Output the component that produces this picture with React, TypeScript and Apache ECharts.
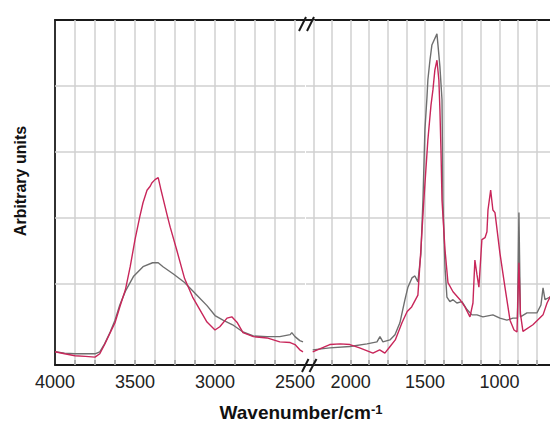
import React, { useEffect, useRef } from "react";
import * as echarts from "echarts";

// ---- data (wavenumber in cm-1, absorbance in arbitrary units) ----
const leftRedWn = [4000, 3940, 3875, 3810, 3750, 3720, 3690, 3655, 3625, 3595, 3560, 3530, 3500, 3470, 3450, 3425, 3405, 3395, 3375, 3355, 3340, 3325, 3300, 3280, 3240, 3190, 3140, 3095, 3050, 3000, 2970, 2925, 2895, 2860, 2825, 2760, 2675, 2595, 2530, 2500, 2470, 2450];
const leftRedVal = [-0.03, -0.06, -0.09, -0.10, -0.11, -0.06, 0.08, 0.26, 0.41, 0.65, 0.91, 1.26, 1.67, 2.02, 2.23, 2.42, 2.48, 2.53, 2.58, 2.61, 2.45, 2.30, 2.05, 1.86, 1.52, 1.08, 0.80, 0.61, 0.42, 0.30, 0.35, 0.48, 0.50, 0.41, 0.26, 0.20, 0.18, 0.12, 0.11, 0.08, 0.00, -0.03];

const leftGrayWn = [4000, 3940, 3875, 3810, 3750, 3720, 3690, 3655, 3625, 3595, 3560, 3510, 3450, 3390, 3355, 3325, 3260, 3190, 3110, 3050, 3000, 2950, 2890, 2825, 2760, 2675, 2595, 2530, 2520, 2500, 2470, 2450];
const leftGrayVal = [-0.03, -0.05, -0.06, -0.06, -0.06, -0.03, 0.09, 0.27, 0.45, 0.68, 0.89, 1.11, 1.26, 1.32, 1.32, 1.26, 1.15, 1.02, 0.82, 0.67, 0.52, 0.45, 0.38, 0.27, 0.21, 0.20, 0.20, 0.23, 0.26, 0.20, 0.14, 0.12];

const rightRedWn = [2255, 2140, 2070, 2005, 1940, 1850, 1805, 1770, 1735, 1700, 1655, 1620, 1590, 1548, 1528, 1508, 1481, 1460, 1447, 1434, 1420, 1407, 1400, 1393, 1386, 1366, 1346, 1312, 1265, 1232, 1198, 1178, 1165, 1151, 1138, 1118, 1097, 1084, 1077, 1059, 1044, 1030, 997, 963, 929, 902, 882, 869, 859, 842, 775, 707, 680, 660, 640];
const rightRedVal = [-0.03, 0.08, 0.09, 0.08, 0.03, -0.05, 0.00, -0.05, 0.05, 0.15, 0.41, 0.58, 0.65, 0.83, 1.52, 2.27, 3.18, 3.71, 3.94, 4.24, 4.39, 4.09, 3.64, 3.03, 2.27, 1.52, 1.02, 0.88, 0.76, 0.65, 0.50, 0.71, 1.36, 1.14, 0.95, 1.67, 1.70, 1.79, 2.12, 2.42, 2.12, 2.08, 1.47, 0.95, 0.45, 0.30, 0.27, 1.32, 0.55, 0.28, 0.38, 0.53, 0.71, 0.80, 0.85];

const rightGrayWn = [2255, 2140, 2005, 1890, 1823, 1803, 1783, 1736, 1702, 1669, 1635, 1615, 1588, 1568, 1548, 1528, 1514, 1501, 1487, 1481, 1467, 1454, 1420, 1413, 1400, 1386, 1380, 1366, 1353, 1333, 1312, 1286, 1252, 1218, 1185, 1151, 1111, 1044, 997, 950, 909, 879, 869, 859, 815, 748, 721, 707, 694, 660, 640];
const rightGrayVal = [0.00, 0.03, 0.05, 0.09, 0.12, 0.20, 0.12, 0.15, 0.23, 0.41, 0.76, 0.95, 1.09, 1.12, 1.03, 1.45, 2.27, 3.33, 3.83, 4.09, 4.39, 4.62, 4.79, 4.62, 4.29, 3.79, 2.27, 1.26, 0.80, 0.73, 0.76, 0.71, 0.73, 0.61, 0.53, 0.53, 0.50, 0.53, 0.48, 0.45, 0.48, 0.48, 2.08, 0.50, 0.56, 0.56, 0.68, 0.94, 0.76, 0.80, 0.82];

// ---- axes ----
const leftTicks = [3875, 3750, 3625, 3500, 3375, 3250, 3125, 3000, 2875, 2750, 2625, 2500];
const leftLabels = [4000, 3500, 3000, 2500];
const rightTicks = [2250, 2125, 2000, 1875, 1750, 1625, 1500, 1375, 1250, 1125, 1000, 875, 750, 625, 500, 375];
const rightLabels = [2000, 1500, 1000];
const yGridValues = [1, 2, 3, 4];

const RED = "#c8265a";
const GRAY = "#6f6f6f";
const AXIS = "#1a1a1a";
const GRID = "#d0d0d0";
const FONT = "'Liberation Sans', Arial, Helvetica, sans-serif";

const pairs = (xs: number[], ys: number[]) => xs.map((x, i) => [x, ys[i]]);

export default function App() {
  const ref = useRef<HTMLDivElement>(null);
  useEffect(() => {
    if (!ref.current) return;
    const chart = echarts.init(ref.current, null, { renderer: "svg" });
    const bottomAxis = (grid: number, min: number, max: number, ticks: number[], labels: number[]) => ({
      type: "value",
      gridIndex: grid,
      position: "bottom",
      inverse: true,
      min,
      max,
      axisLine: { show: true, onZero: false, lineStyle: { color: AXIS, width: 1.8 } },
      axisTick: { show: true, inside: true, length: 5, customValues: ticks, lineStyle: { color: AXIS, width: 1.5 } },
      axisLabel: {
        show: true,
        customValues: labels,
        margin: 8,
        color: "#222",
        fontSize: 18,
        fontFamily: FONT,
        formatter: (v: number) => String(v),
      },
      splitLine: { show: false },
    });
    const topAxis = (grid: number, min: number, max: number) => ({
      type: "value",
      gridIndex: grid,
      position: "top",
      inverse: true,
      min,
      max,
      axisLine: { show: true, onZero: false, lineStyle: { color: AXIS, width: 1.8 } },
      axisTick: { show: false },
      axisLabel: { show: false },
      splitLine: { show: false },
    });
    const yAxis = (grid: number, showLine: boolean) => ({
      type: "value",
      gridIndex: grid,
      min: -0.23,
      max: 5,
      axisLine: { show: showLine, onZero: false, lineStyle: { color: AXIS, width: 1.8 } },
      axisTick: { show: false },
      axisLabel: { show: false },
      splitLine: { show: false },
    });
    const gridLines = (xs: number[]) => ({
      silent: true,
      z: 1,
      symbol: ["none", "none"],
      label: { show: false },
      emphasis: { disabled: true },
      animation: false,
      lineStyle: { color: GRID, width: 1.5, type: "solid" },
      data: [...xs.map((v) => ({ xAxis: v })), ...yGridValues.map((v) => ({ yAxis: v }))],
    });
    const line = (name: string, xi: number, yi: number, data: number[][], color: string, z: number, markLine?: any) => ({
      name,
      type: "line",
      xAxisIndex: xi,
      yAxisIndex: yi,
      data,
      showSymbol: false,
      symbol: "none",
      lineStyle: { color, width: 1.4 },
      z,
      ...(markLine ? { markLine } : {}),
    });
    chart.setOption({
      animation: false,
      backgroundColor: "#ffffff",
      grid: [
        { left: 55, top: 20, width: 250, height: 345, outerBoundsMode: "none", containLabel: false },
        { left: 306, top: 20, width: 297.6, height: 345, outerBoundsMode: "none", containLabel: false },
      ],
      xAxis: [
        bottomAxis(0, 2437.5, 4000, leftTicks, leftLabels),
        bottomAxis(1, 300, 2300, rightTicks, rightLabels),
        topAxis(0, 2437.5, 4000),
        topAxis(1, 300, 2300),
      ],
      yAxis: [yAxis(0, true), yAxis(1, false)],
      series: [
        line("Sample A", 0, 0, pairs(leftGrayWn, leftGrayVal), GRAY, 2, gridLines(leftTicks)),
        line("Sample B", 0, 0, pairs(leftRedWn, leftRedVal), RED, 3),
        line("Sample A", 1, 1, pairs(rightGrayWn, rightGrayVal), GRAY, 2, gridLines(rightTicks)),
        line("Sample B", 1, 1, pairs(rightRedWn, rightRedVal), RED, 3),
      ],
      graphic: [
        { type: "line", shape: { x1: 299, y1: 31, x2: 306, y2: 17 }, style: { stroke: AXIS, lineWidth: 2 }, z: 100 },
        { type: "line", shape: { x1: 307, y1: 31, x2: 314, y2: 17 }, style: { stroke: AXIS, lineWidth: 2 }, z: 100 },
        { type: "line", shape: { x1: 302, y1: 372, x2: 308.5, y2: 359 }, style: { stroke: AXIS, lineWidth: 2 }, z: 100 },
        { type: "line", shape: { x1: 309.5, y1: 372, x2: 316.5, y2: 359 }, style: { stroke: AXIS, lineWidth: 2 }, z: 100 },
        {
          type: "text",
          x: 20,
          y: 181,
          rotation: Math.PI / 2,
          style: {
            text: "Arbitrary units",
            textAlign: "center",
            textVerticalAlign: "middle",
            fontSize: 16,
            fontWeight: "bold",
            fontFamily: FONT,
            fill: "#111",
          },
        },
        {
          type: "text",
          x: 301,
          y: 412,
          style: {
            text: "{a|Wavenumber/cm}{b|-1}",
            textAlign: "center",
            textVerticalAlign: "middle",
            fontFamily: FONT,
            rich: {
              a: { fontSize: 19, fontWeight: "bold", fontFamily: FONT, fill: "#111", verticalAlign: "bottom" },
              b: { fontSize: 13, fontWeight: "bold", fontFamily: FONT, fill: "#111", verticalAlign: "top" },
            },
          },
        },
      ],
    });
    return () => chart.dispose();
  }, []);
  return (
    <div
      ref={ref}
      style={{ position: "fixed", left: 0, top: 0, width: 550, height: 421, overflow: "hidden", background: "#fff" }}
    />
  );
}
